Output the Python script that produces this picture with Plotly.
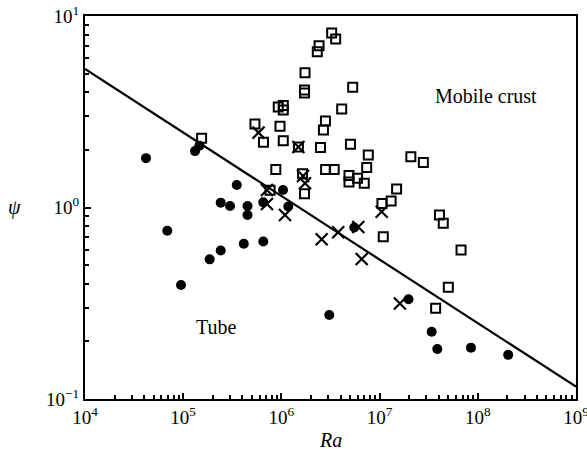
import plotly.graph_objects as go

# ---- data ----
sq_ra = [3.25e6, 3.57e6, 2.42e6, 2.32e6, 1.74e6, 1.72e6, 1.72e6, 5.32e6, 9.29e5, 1.045e6,
         1.045e6, 4.11e6, 5.38e5, 9.68e5, 2.81e6, 2.68e6, 6.57e5, 1.045e6, 1.49e6, 2.50e6,
         5.05e6, 7.67e6, 7.39e6, 1.54e5, 8.77e5, 1.64e6, 2.82e6, 3.45e6, 4.88e6, 4.88e6,
         5.96e6, 6.98e6, 1.72e6, 7.66e5, 2.08e7, 2.79e7, 1.49e7, 1.31e7, 1.057e7, 4.07e7,
         4.45e7, 1.09e7, 6.75e7, 5.01e7, 3.72e7]
sq_psi = [8.15, 7.59, 7.0, 6.51, 5.06, 4.11, 3.96, 4.24, 3.35, 3.41,
          3.23, 3.27, 2.73, 2.66, 2.83, 2.54, 2.19, 2.23, 2.07, 2.06,
          2.14, 1.88, 1.62, 2.30, 1.58, 1.50, 1.58, 1.58, 1.47, 1.36,
          1.42, 1.34, 1.18, 1.23, 1.84, 1.72, 1.25, 1.08, 1.05, 0.914,
          0.827, 0.704, 0.600, 0.383, 0.298]

dot_ra = [4.18e4, 1.32e5, 1.46e5, 3.51e5, 2.41e5, 3.0e5, 4.52e5, 4.52e5, 6.54e5, 1.038e6,
          1.175e6, 6.89e4, 1.86e5, 2.41e5, 4.14e5, 6.54e5, 9.5e4, 5.52e6, 1.97e7, 3.07e6,
          3.39e7, 3.87e7, 8.52e7, 2.04e8]
dot_psi = [1.81, 1.97, 2.10, 1.31, 1.06, 1.018, 1.018, 0.914, 1.064, 1.234,
           1.012, 0.756, 0.536, 0.596, 0.647, 0.664, 0.394, 0.786, 0.332, 0.2746,
           0.2246, 0.1824, 0.1854, 0.170]

x_ra = [5.85e5, 1.49e6, 1.66e6, 1.74e6, 7.13e5, 7.13e5, 1.088e6, 2.57e6, 3.79e6, 6.07e6,
        6.57e6, 1.05e7, 1.61e7]
x_psi = [2.46, 2.07, 1.46, 1.34, 1.234, 1.043, 0.914, 0.682, 0.742, 0.791,
         0.538, 0.950, 0.315]

line_ra = [1e4, 1e9]
line_psi = [5.29, 0.116]

x_tickvals = [1e4, 1e5, 1e6, 1e7, 1e8, 1e9]
x_ticktext = ["10<sup>4</sup>", "10<sup>5</sup>", "10<sup>6</sup>", "10<sup>7</sup>",
              "10<sup>8</sup>", "10<sup>9</sup>"]
y_tickvals = [0.1, 1, 10]
y_ticktext = ["10<sup>\u22121</sup>", "10<sup>0</sup>", "10<sup>1</sup>"]

x_minor = [k * 10 ** e for e in range(4, 9) for k in range(2, 10)]
y_minor = [k * 10 ** e for e in range(-1, 1) for k in range(2, 10)]

FONT = "Liberation Serif"

fig = go.Figure()
fig.add_trace(go.Scatter(x=line_ra, y=line_psi, mode="lines",
                         line=dict(color="black", width=2.2), showlegend=False))
fig.add_trace(go.Scatter(x=sq_ra, y=sq_psi, mode="markers",
                         marker=dict(symbol="square-open", size=9, color="black",
                                     line=dict(width=2, color="black")),
                         showlegend=False))
fig.add_trace(go.Scatter(x=dot_ra, y=dot_psi, mode="markers",
                         marker=dict(symbol="circle", size=10, color="black"),
                         showlegend=False))
fig.add_trace(go.Scatter(x=x_ra, y=x_psi, mode="markers",
                         marker=dict(symbol="x-thin", size=12, color="black",
                                     line=dict(width=2.2, color="black")),
                         showlegend=False))

axis_common = dict(showline=True, linecolor="black", linewidth=2, mirror=True,
                   ticks="inside", ticklen=6, tickwidth=1.5, tickcolor="black",
                   showgrid=False, zeroline=False, tickmode="array",
                   ticklabeloverflow="allow", automargin=False,
                   tickfont=dict(family=FONT, size=19, color="black"))

fig.update_xaxes(type="log", range=[4, 9], tickvals=x_tickvals, ticktext=x_ticktext,
                 minor=dict(tickvals=x_minor, ticks="inside", ticklen=4, tickwidth=1.5,
                            tickcolor="black", showgrid=False),
                 **axis_common)
fig.update_yaxes(type="log", range=[-1, 1], tickvals=y_tickvals, ticktext=y_ticktext,
                 minor=dict(tickvals=y_minor, ticks="inside", ticklen=4, tickwidth=1.5,
                            tickcolor="black", showgrid=False),
                 **axis_common)

fig.update_layout(
    width=587, height=449,
    margin=dict(l=85, r=11, t=16, b=50),
    paper_bgcolor="white", plot_bgcolor="white",
    font=dict(family=FONT, color="black", size=19),
    annotations=[
        dict(text="Mobile crust", x=8.083, y=0.582, xref="x", yref="y",
             showarrow=False, font=dict(family=FONT, size=20, color="black")),
        dict(text="Tube", x=5.344, y=-0.624, xref="x", yref="y",
             showarrow=False, font=dict(family=FONT, size=20, color="black")),
        dict(text="<i>Ra</i>", x=0.5, y=-0.107, xref="paper", yref="paper",
             xanchor="center", yanchor="middle", showarrow=False,
             font=dict(family=FONT, size=20, color="black")),
        dict(text="<i>\u03c8</i>", x=-0.1426, y=0.5, xref="paper", yref="paper",
             xanchor="center", yanchor="middle", showarrow=False,
             font=dict(family=FONT, size=20, color="black")),
    ],
)

fig.write_html("out.html")
